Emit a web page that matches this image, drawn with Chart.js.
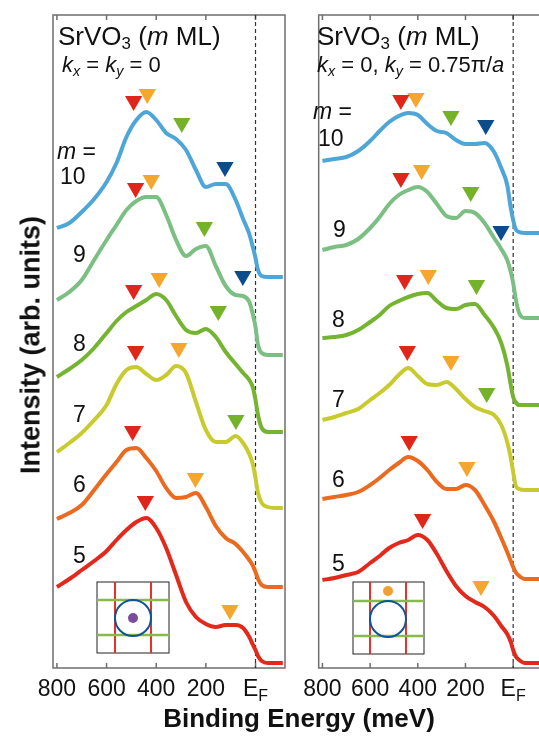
<!DOCTYPE html>
<html>
<head>
<meta charset="utf-8">
<script src="https://cdn.jsdelivr.net/npm/chart.js@4/dist/chart.umd.min.js"></script>
<style>
  html, body { margin: 0; padding: 0; background: #fff; overflow: hidden; }
  #fig { position: relative; width: 539px; height: 736px; overflow: hidden; font-family: 'Liberation Sans', Arial, sans-serif; color: #111; }
  canvas { position: absolute; top: 0; }
  .t { position: absolute; line-height: 1; white-space: nowrap; }
  .head { font-size: 26px; }
  .kline { font-size: 22px; }
  .num { font-size: 23px; }
  .axt { font-size: 26px; font-weight: bold; }
  sub { font-size: 65%; vertical-align: -0.25em; line-height: 0; }
  svg { position: absolute; }
</style>
</head>
<body>
<div id="fig">
  <canvas id="leftPanel" width="295" height="736" style="left:0"></canvas>
  <canvas id="rightPanel" width="265" height="736" style="left:295px"></canvas>

  <div class="t head" style="left:58px;top:23px">SrVO<sub>3</sub> (<i>m</i> ML)</div>
  <div class="t kline" style="left:62px;top:54px"><i>k<sub>x</sub></i> = <i>k<sub>y</sub></i> = 0</div>
  <div class="t head" style="left:317px;top:23px">SrVO<sub>3</sub> (<i>m</i> ML)</div>
  <div class="t kline" style="left:317px;top:54px"><i>k<sub>x</sub></i> = 0, <i>k<sub>y</sub></i> = 0.75π/<i>a</i></div>

  <div class="t num" style="left:57px;top:140px"><i>m</i> =</div>
  <div class="t num" style="left:60px;top:165px">10</div>
  <div class="t num" style="left:73px;top:243px">9</div>
  <div class="t num" style="left:73px;top:332px">8</div>
  <div class="t num" style="left:73px;top:403px">7</div>
  <div class="t num" style="left:73px;top:473px">6</div>
  <div class="t num" style="left:73px;top:544px">5</div>

  <div class="t num" style="left:313px;top:100px"><i>m</i> =</div>
  <div class="t num" style="left:318px;top:127px">10</div>
  <div class="t num" style="left:333px;top:218px">9</div>
  <div class="t num" style="left:332px;top:308px">8</div>
  <div class="t num" style="left:332px;top:388px">7</div>
  <div class="t num" style="left:332px;top:468px">6</div>
  <div class="t num" style="left:332px;top:552px">5</div>

  <div class="t axt" style="left:31px;top:345px;font-size:27px;transform:translate(-50%,-50%) rotate(-90deg)">Intensity (arb. units)</div>
  <div class="t axt" style="left:299px;top:718px;transform:translate(-50%,-50%)">Binding Energy (meV)</div>

  <!-- Brillouin zone insets -->
  <svg style="left:96px;top:581px" width="75" height="74">
    <rect x="1" y="1" width="72" height="71" fill="none" stroke="#222" stroke-width="1"/>
    <line x1="19" y1="1" x2="19" y2="72" stroke="#e5322a" stroke-width="2"/>
    <line x1="55" y1="1" x2="55" y2="72" stroke="#e5322a" stroke-width="2"/>
    <line x1="1" y1="19" x2="73" y2="19" stroke="#86bb4a" stroke-width="2.5"/>
    <line x1="1" y1="54" x2="73" y2="54" stroke="#86bb4a" stroke-width="2.5"/>
    <circle cx="37" cy="37" r="18" fill="none" stroke="#0f5596" stroke-width="2"/>
    <circle cx="37" cy="37" r="5" fill="#7b4d9c"/>
  </svg>
  <svg style="left:352px;top:581px" width="75" height="75">
    <rect x="1" y="1" width="71" height="72" fill="none" stroke="#222" stroke-width="1"/>
    <line x1="18" y1="1" x2="18" y2="73" stroke="#e5322a" stroke-width="2"/>
    <line x1="54" y1="1" x2="54" y2="73" stroke="#e5322a" stroke-width="2"/>
    <line x1="1" y1="20" x2="72" y2="20" stroke="#86bb4a" stroke-width="2.5"/>
    <line x1="1" y1="55" x2="72" y2="55" stroke="#86bb4a" stroke-width="2.5"/>
    <circle cx="36" cy="38" r="18" fill="none" stroke="#0f5596" stroke-width="2"/>
    <circle cx="36" cy="10" r="5" fill="#f0a030"/>
  </svg>
</div>

<script>
// binding energies (meV) at which the spectra were read
const energyGrid = [800, 750, 700, 650, 600, 560, 520, 480, 440, 400, 360, 320, 280, 240, 200, 160, 120, 80, 50, 25, 10, 0, -10, -25, -50, -80, -110];
const mValues = [10, 9, 8, 7, 6, 5];
const tickValues = [800, 600, 400, 200, 0];

// k = (0,0), offset spectra, arb. units
const leftM10 = [4.40, 4.45, 4.56, 4.69, 4.86, 5.05, 5.31, 5.48, 5.56, 5.48, 5.35, 5.29, 5.18, 4.98, 4.81, 4.84, 4.84, 4.68, 4.49, 4.34, 4.20, 4.10, 3.98, 3.92, 3.91, 3.91, 3.91];
const leftM9 = [3.68, 3.76, 3.88, 4.08, 4.28, 4.43, 4.58, 4.67, 4.71, 4.71, 4.53, 4.28, 4.12, 4.19, 4.22, 4.02, 3.82, 3.73, 3.72, 3.66, 3.53, 3.41, 3.23, 3.15, 3.13, 3.13, 3.13];
const leftM8 = [2.91, 2.99, 3.08, 3.20, 3.35, 3.47, 3.56, 3.62, 3.68, 3.74, 3.68, 3.52, 3.38, 3.35, 3.39, 3.31, 3.16, 3.04, 2.95, 2.88, 2.80, 2.68, 2.53, 2.40, 2.36, 2.36, 2.36];
const leftM7 = [2.16, 2.25, 2.35, 2.48, 2.63, 2.84, 2.98, 3.01, 2.94, 2.88, 2.93, 3.02, 2.95, 2.66, 2.38, 2.26, 2.26, 2.32, 2.25, 2.14, 2.03, 1.90, 1.75, 1.65, 1.61, 1.60, 1.60];
const leftM6 = [1.49, 1.55, 1.63, 1.78, 1.94, 2.06, 2.18, 2.20, 2.10, 1.97, 1.80, 1.70, 1.71, 1.75, 1.61, 1.42, 1.30, 1.24, 1.16, 1.08, 1.02, 0.96, 0.89, 0.83, 0.81, 0.81, 0.81];
const leftM5 = [0.81, 0.89, 0.98, 1.07, 1.17, 1.28, 1.38, 1.46, 1.50, 1.40, 1.20, 0.93, 0.66, 0.51, 0.44, 0.41, 0.43, 0.43, 0.40, 0.31, 0.23, 0.18, 0.12, 0.07, 0.05, 0.05, 0.05];

// k = (0, 0.75 pi/a)
const rightM10 = [5.07, 5.09, 5.11, 5.17, 5.27, 5.37, 5.46, 5.52, 5.55, 5.53, 5.44, 5.37, 5.35, 5.28, 5.24, 5.24, 5.25, 5.16, 5.00, 4.83, 4.60, 4.48, 4.39, 4.36, 4.35, 4.35, 4.35];
const rightM9 = [4.18, 4.21, 4.23, 4.29, 4.40, 4.51, 4.64, 4.73, 4.78, 4.81, 4.76, 4.64, 4.52, 4.50, 4.57, 4.55, 4.45, 4.30, 4.19, 4.08, 3.96, 3.85, 3.70, 3.55, 3.50, 3.50, 3.50];
const rightM8 = [3.30, 3.31, 3.33, 3.38, 3.46, 3.53, 3.62, 3.67, 3.71, 3.74, 3.75, 3.67, 3.60, 3.59, 3.63, 3.64, 3.53, 3.40, 3.25, 3.03, 2.83, 2.71, 2.66, 2.63, 2.63, 2.63, 2.63];
const rightM7 = [2.48, 2.51, 2.55, 2.59, 2.68, 2.75, 2.83, 2.93, 3.00, 2.92, 2.84, 2.83, 2.86, 2.79, 2.69, 2.61, 2.57, 2.53, 2.43, 2.26, 2.10, 1.96, 1.83, 1.79, 1.78, 1.78, 1.78];
const rightM6 = [1.69, 1.71, 1.73, 1.76, 1.83, 1.90, 1.98, 2.05, 2.11, 2.07, 1.98, 1.86, 1.79, 1.79, 1.83, 1.78, 1.63, 1.46, 1.30, 1.16, 1.07, 1.01, 0.96, 0.92, 0.89, 0.89, 0.89];
const rightM5 = [0.88, 0.90, 0.93, 0.96, 1.05, 1.12, 1.20, 1.25, 1.28, 1.33, 1.28, 1.14, 0.97, 0.82, 0.72, 0.66, 0.61, 0.52, 0.42, 0.34, 0.26, 0.18, 0.12, 0.08, 0.05, 0.05, 0.05];

// peak markers [energy, intensity]
const leftRedPeaks = [[491, 5.67], [483, 4.80], [491, 3.78], [483, 3.17], [495, 2.37], [444, 1.67]];
const leftOrangePeaks = [[436, 5.74], [420, 4.88], [388, 3.90], [309, 3.20], [242, 1.90], [103, 0.58]];
const leftGreenPeaks = [[297, 5.45], [206, 4.41], [150, 3.57], [79, 2.48]];
const leftNavyPeaks = [[123, 5.01], [51, 3.92]];
const rightRedPeaks = [[471, 5.68], [471, 4.90], [455, 3.88], [444, 3.17], [436, 2.27], [380, 1.49]];
const rightOrangePeaks = [[408, 5.70], [384, 4.98], [356, 3.93], [261, 3.07], [194, 2.01], [135, 0.82]];
const rightGreenPeaks = [[261, 5.52], [178, 4.76], [154, 3.83], [111, 2.75]];
const rightNavyPeaks = [[115, 5.43], [51, 4.37]];

const curveColors = ['#4ea6d8', '#7cbf82', '#74b430', '#c8cb2d', '#eb6a1f', '#e3281c'];
const markerColors = { red: '#e0261b', orange: '#f4a62e', green: '#74b22a', navy: '#0a4c8c' };

const FONT = "'Liberation Sans', Arial, sans-serif";

function spectrumSets(spectra) {
    return spectra.map((vals, i) => ({
        label: 'm = ' + mValues[i],
        data: energyGrid.map((e, j) => ({ x: e, y: vals[j] })),
        borderColor: curveColors[i],
        borderWidth: 4,
        pointRadius: 0,
        cubicInterpolationMode: 'monotone',
        fill: false
    }));
}

function markerSet(peaks, color) {
    return {
        data: peaks.map(p => ({ x: p[0], y: p[1] })),
        showLine: false,
        pointStyle: 'triangle',
        rotation: 180,
        pointRadius: 10,
        pointBackgroundColor: color,
        pointBorderWidth: 0,
        borderColor: color
    };
}

// frame, inner ticks, dashed E_F line and the E_F tick label
const panelFrame = {
    id: 'panelFrame',
    beforeDatasetsDraw(chart) {
        const { ctx, chartArea: a } = chart;
        const x = chart.scales.x;
        ctx.save();
        ctx.strokeStyle = '#6e6e6e';
        ctx.lineWidth = 1.5;
        ctx.strokeRect(a.left, a.top, a.right - a.left, a.bottom - a.top);
        ctx.beginPath();
        tickValues.forEach(v => {
            const px = x.getPixelForValue(v);
            ctx.moveTo(px, a.bottom); ctx.lineTo(px, a.bottom - 5);
            ctx.moveTo(px, a.top); ctx.lineTo(px, a.top + 5);
        });
        ctx.stroke();
        const p0 = x.getPixelForValue(0);
        ctx.setLineDash([4, 3]);
        ctx.strokeStyle = '#333';
        ctx.lineWidth = 1.2;
        ctx.beginPath();
        ctx.moveTo(p0, a.top); ctx.lineTo(p0, a.bottom);
        ctx.stroke();
        ctx.restore();
    },
    afterDraw(chart) {
        const { ctx, chartArea: a } = chart;
        const p0 = chart.scales.x.getPixelForValue(0);
        ctx.save();
        ctx.fillStyle = '#111';
        ctx.textBaseline = 'alphabetic';
        ctx.font = '23px ' + FONT;
        const wE = ctx.measureText('E').width;
        ctx.font = '16px ' + FONT;
        const wF = ctx.measureText('F').width;
        const start = p0 - (wE + wF) / 2;
        ctx.font = '23px ' + FONT;
        ctx.fillText('E', start, a.bottom + 28);
        ctx.font = '16px ' + FONT;
        ctx.fillText('F', start + wE, a.bottom + 33);
        ctx.restore();
    }
};

function makePanel(id, spectra, peaks, xMin, xMax, padLeft, padRight) {
    const datasets = spectrumSets(spectra).concat([
        markerSet(peaks[0], markerColors.red),
        markerSet(peaks[1], markerColors.orange),
        markerSet(peaks[2], markerColors.green),
        markerSet(peaks[3], markerColors.navy)
    ]);
    return new Chart(document.getElementById(id), {
        type: 'line',
        data: { datasets },
        options: {
            responsive: false,
            animation: false,
            events: [],
            layout: { padding: { left: padLeft, right: padRight, top: 15, bottom: 0 } },
            plugins: { legend: { display: false }, tooltip: { enabled: false } },
            scales: {
                x: {
                    type: 'linear',
                    reverse: true,
                    min: xMin,
                    max: xMax,
                    afterBuildTicks: s => { s.ticks = tickValues.map(v => ({ value: v })); },
                    afterFit: s => { s.height = 68; },
                    grid: { display: false, drawTicks: false },
                    border: { display: false },
                    ticks: {
                        padding: 8,
                        color: '#111',
                        font: { family: FONT, size: 23 },
                        maxRotation: 0,
                        autoSkip: false,
                        callback: v => (v === 0 ? '' : String(v))
                    }
                },
                y: { display: false, min: 0, max: 6.53 }
            }
        },
        plugins: [panelFrame]
    });
}

makePanel('leftPanel',
    [leftM10, leftM9, leftM8, leftM7, leftM6, leftM5],
    [leftRedPeaks, leftOrangePeaks, leftGreenPeaks, leftNavyPeaks],
    -118.8, 815.8, 53, 6);

makePanel('rightPanel',
    [rightM10, rightM9, rightM8, rightM7, rightM6, rightM5],
    [rightRedPeaks, rightOrangePeaks, rightGreenPeaks, rightNavyPeaks],
    -154.5, 815.8, 16, 4);
</script>
</body>
</html>
